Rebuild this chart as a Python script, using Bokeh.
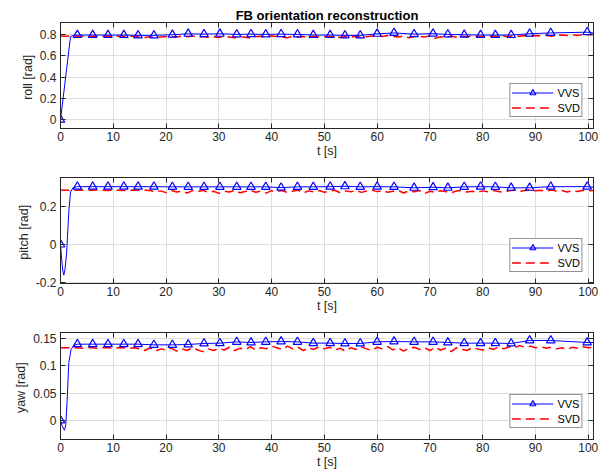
from bokeh.plotting import figure
from bokeh.models import (ColumnDataSource, Legend, LegendItem, LinearAxis,
                          FixedTicker, Range1d)
from bokeh.layouts import column
from bokeh.embed import file_html
from bokeh.resources import INLINE

# ---------------- data ----------------
title_text = "FB orientation reconstruction"
x_label = "t [s]"
x_ticks = [0, 10, 20, 30, 40, 50, 60, 70, 80, 90, 100]

# SVD estimates, sampled every second (t = 0 .. 101 s)
svd_t = [float(i) for i in range(102)]
svd_roll = [0.786, 0.785, 0.786, 0.785, 0.784, 0.786, 0.785, 0.784, 0.785, 0.786,
            0.784, 0.785, 0.783, 0.784, 0.782, 0.778, 0.772, 0.780, 0.768, 0.776,
            0.781, 0.783, 0.776, 0.785, 0.779, 0.786, 0.778, 0.781, 0.774, 0.780,
            0.772, 0.784, 0.777, 0.770, 0.782, 0.775, 0.766, 0.781, 0.785, 0.779,
            0.786, 0.782, 0.776, 0.770, 0.784, 0.778, 0.781, 0.773, 0.783, 0.776,
            0.780, 0.785, 0.778, 0.773, 0.782, 0.776, 0.784, 0.771, 0.779, 0.786,
            0.788, 0.782, 0.790, 0.783, 0.776, 0.786, 0.770, 0.781, 0.784, 0.778,
            0.787, 0.764, 0.780, 0.775, 0.784, 0.777, 0.783, 0.779, 0.786, 0.781,
            0.784, 0.780, 0.786, 0.779, 0.784, 0.781, 0.788, 0.783, 0.790, 0.786,
            0.791, 0.788, 0.793, 0.785, 0.790, 0.795, 0.791, 0.796, 0.794, 0.798,
            0.797, 0.800]
svd_pitch = [0.285, 0.284, 0.285, 0.284, 0.285, 0.284, 0.284, 0.285, 0.284, 0.283,
             0.285, 0.284, 0.283, 0.284, 0.285, 0.283, 0.284, 0.283, 0.276, 0.281,
             0.272, 0.283, 0.275, 0.279, 0.270, 0.282, 0.277, 0.284, 0.273, 0.279,
             0.268, 0.280, 0.275, 0.283, 0.271, 0.278, 0.284, 0.274, 0.280, 0.269,
             0.282, 0.277, 0.283, 0.272, 0.279, 0.285, 0.270, 0.281, 0.276, 0.283,
             0.274, 0.279, 0.284, 0.271, 0.281, 0.276, 0.283, 0.273, 0.280, 0.285,
             0.277, 0.282, 0.274, 0.279, 0.284, 0.270, 0.281, 0.276, 0.283, 0.267,
             0.279, 0.274, 0.282, 0.277, 0.271, 0.280, 0.284, 0.275, 0.279, 0.273,
             0.281, 0.276, 0.283, 0.278, 0.274, 0.281, 0.285, 0.279, 0.283, 0.287,
             0.281, 0.284, 0.279, 0.286, 0.280, 0.283, 0.275, 0.281, 0.278, 0.284,
             0.282, 0.283]
svd_yaw = [0.133, 0.133, 0.133, 0.133, 0.132, 0.133, 0.133, 0.132, 0.133, 0.133,
           0.132, 0.133, 0.133, 0.132, 0.133, 0.131, 0.128, 0.133, 0.127, 0.131,
           0.129, 0.132, 0.127, 0.131, 0.128, 0.133, 0.129, 0.126, 0.131, 0.128,
           0.132, 0.129, 0.134, 0.128, 0.132, 0.130, 0.135, 0.129, 0.133, 0.131,
           0.136, 0.133, 0.130, 0.136, 0.131, 0.134, 0.128, 0.133, 0.130, 0.135,
           0.131, 0.134, 0.129, 0.132, 0.127, 0.133, 0.130, 0.135, 0.131, 0.128,
           0.134, 0.131, 0.135, 0.129, 0.133, 0.127, 0.132, 0.134, 0.130, 0.133,
           0.128, 0.134, 0.129, 0.132, 0.126, 0.133, 0.130, 0.128, 0.133, 0.131,
           0.129, 0.133, 0.130, 0.134, 0.131, 0.135, 0.133, 0.137, 0.134, 0.136,
           0.133, 0.135, 0.132, 0.134, 0.131, 0.133, 0.130, 0.134, 0.132, 0.135,
           0.133, 0.134]

# VVS estimates: samples carrying a marker
vvs_marker_t = [0.0, 3.2, 6.1, 9.0, 12.0, 14.7, 17.7, 21.2, 24.2, 27.2, 30.2,
                33.4, 36.1, 38.9, 41.8, 44.9, 47.9, 51.1, 53.9, 56.8, 60.0,
                63.2, 67.0, 70.6, 73.4, 76.5, 79.6, 82.4, 85.4, 88.9, 92.9, 99.8]
vvs_marker_roll = [0.0, 0.795, 0.795, 0.795, 0.795, 0.792, 0.792, 0.798, 0.807, 0.804,
                   0.807, 0.801, 0.804, 0.801, 0.804, 0.801, 0.795, 0.795, 0.792,
                   0.792, 0.807, 0.815, 0.804, 0.808, 0.801, 0.798, 0.795, 0.795,
                   0.795, 0.808, 0.815, 0.822]
vvs_marker_pitch = [0.0, 0.303, 0.303, 0.303, 0.303, 0.303, 0.303, 0.302, 0.302, 0.302,
                    0.302, 0.302, 0.302, 0.302, 0.298, 0.302, 0.302, 0.303, 0.305,
                    0.302, 0.303, 0.302, 0.297, 0.300, 0.297, 0.302, 0.303, 0.302,
                    0.297, 0.297, 0.303, 0.303]
vvs_marker_yaw = [0.0, 0.1396, 0.1396, 0.1396, 0.1396, 0.1396, 0.1384, 0.1384, 0.1390,
                  0.1409, 0.1415, 0.1439, 0.1427, 0.1439, 0.1445, 0.1439, 0.1415,
                  0.1415, 0.1409, 0.1409, 0.1439, 0.1445, 0.1439, 0.1439, 0.1427,
                  0.1415, 0.1415, 0.1415, 0.1409, 0.1464, 0.1464, 0.1427]

# VVS initial transient (between the first two markers) and final sample
vvs_trans_roll_t = [1.9, 2.4]
vvs_trans_roll = [0.780, 0.792]
vvs_trans_pitch_t = [0.2, 0.45, 0.63, 0.85, 1.14, 1.4, 1.6, 1.9, 2.4]
vvs_trans_pitch = [-0.07, -0.14, -0.16, -0.13, -0.05, 0.08, 0.18, 0.275, 0.298]
vvs_trans_yaw_t = [0.3, 0.76, 1.0, 1.27, 1.58, 2.0, 2.5]
vvs_trans_yaw = [-0.010, -0.018, -0.008, 0.039, 0.106, 0.130, 0.137]
vvs_end_t = 101.0
vvs_end_roll = 0.815
vvs_end_pitch = 0.300
vvs_end_yaw = 0.1427

roll_ticks = [0, 0.2, 0.4, 0.6, 0.8]
roll_tick_labels = ["0", "0.2", "0.4", "0.6", "0.8"]
pitch_ticks = [-0.2, 0, 0.2]
pitch_tick_labels = ["-0.2", "0", "0.2"]
yaw_ticks = [0, 0.05, 0.1, 0.15]
yaw_tick_labels = ["0", "0.05", "0.1", "0.15"]

# ---------------- style ----------------
FONT = "Liberation Sans"
AX = "#262626"
GRID = "#dedede"


def panel(ylabel, yr, yticks, ylabels, svd_vals, tr_t, tr_v, mk_v, end_v,
          height, top, bottom, title=None):
    p = figure(width=605, height=height, output_backend="svg",
               toolbar_location=None, x_range=Range1d(0, 101),
               y_range=Range1d(*yr), min_border_left=60, min_border_right=12,
               min_border_top=top, min_border_bottom=bottom,
               background_fill_color="white", border_fill_color="white",
               outline_line_color=AX, outline_line_width=1)
    if title:
        p.title.text = title
        p.title.align = "center"
        p.title.text_font = FONT
        p.title.text_font_size = "13px"
        p.title.text_font_style = "bold"
        p.title.text_color = "black"
        p.title.standoff = 0
        p.title.offset = 0
    xt = FixedTicker(ticks=x_ticks)
    yt = FixedTicker(ticks=yticks)
    overrides = {t: l for t, l in zip(yticks, ylabels)}
    for ax in (p.xaxis[0], p.yaxis[0]):
        ax.major_tick_in = 5
        ax.major_tick_out = 0
        ax.minor_tick_line_color = None
        ax.axis_line_color = AX
        ax.major_tick_line_color = AX
        ax.major_label_text_font = FONT
        ax.major_label_text_font_size = "12px"
        ax.major_label_text_color = AX
        ax.axis_label_text_font = FONT
        ax.axis_label_text_font_size = "12.5px"
        ax.axis_label_text_font_style = "normal"
        ax.axis_label_text_color = AX
        ax.major_label_standoff = 4
        ax.axis_label_standoff = 2
    p.xaxis[0].axis_label_standoff = 0
    p.xaxis[0].major_label_standoff = 3
    p.xaxis[0].ticker = xt
    p.yaxis[0].ticker = yt
    p.yaxis[0].major_label_overrides = overrides
    p.xaxis[0].axis_label = x_label
    p.yaxis[0].axis_label = ylabel
    for loc, tk in (("above", xt), ("right", yt)):
        a = LinearAxis(ticker=tk, major_label_text_font_size="1px",
                       major_label_text_color=None,
                       major_label_standoff=0, major_tick_in=5,
                       major_tick_out=0, minor_tick_line_color=None,
                       axis_line_color=AX, major_tick_line_color=AX)
        p.add_layout(a, loc)
    p.xgrid.ticker = xt
    p.ygrid.ticker = yt
    p.xgrid.grid_line_color = GRID
    p.ygrid.grid_line_color = GRID

    line_t = [vvs_marker_t[0]] + tr_t + vvs_marker_t[1:] + [vvs_end_t]
    line_v = [mk_v[0]] + tr_v + mk_v[1:] + [end_v]
    svd_src = ColumnDataSource(dict(t=svd_t, v=svd_vals))
    vl_src = ColumnDataSource(dict(t=line_t, v=line_v))
    mk_src = ColumnDataSource(dict(t=vvs_marker_t, v=mk_v))

    r_svd = p.line("t", "v", source=svd_src, line_color="red", line_width=1.5,
                   line_dash="9 5")
    r_vl = p.line("t", "v", source=vl_src, line_color="blue", line_width=1)
    r_mk = p.scatter("t", "v", source=mk_src, marker="triangle", size=8.5,
                     line_color="blue", line_width=1.2, fill_color=None)

    leg = Legend(items=[LegendItem(label="VVS", renderers=[r_vl, r_mk]),
                        LegendItem(label="SVD", renderers=[r_svd])],
                 location="bottom_right", margin=11,
                 border_line_color=AX, border_line_width=1,
                 background_fill_color="white", background_fill_alpha=1,
                 label_text_font=FONT, label_text_font_size="11px",
                 label_text_color="black",
                 glyph_width=42, glyph_height=15, label_height=15,
                 label_standoff=4, padding=1, spacing=0)
    p.add_layout(leg, "center")
    return p


p1 = panel("roll  [rad]", (-0.082, 0.913), roll_ticks, roll_tick_labels,
           svd_roll, vvs_trans_roll_t, vvs_trans_roll, vvs_marker_roll,
           vvs_end_roll, 160, 22, 32, title=title_text)
p2 = panel("pitch  [rad]", (-0.204, 0.351), pitch_ticks, pitch_tick_labels,
           svd_pitch, vvs_trans_pitch_t, vvs_trans_pitch, vvs_marker_pitch,
           vvs_end_pitch, 155, 17, 32)
p3 = panel("yaw  [rad]", (-0.035, 0.161), yaw_ticks, yaw_tick_labels,
           svd_yaw, vvs_trans_yaw_t, vvs_trans_yaw, vvs_marker_yaw,
           vvs_end_yaw, 158, 17, 34)

layout = column(p1, p2, p3, spacing=0)
open("out.html", "w").write(file_html(layout, INLINE))
